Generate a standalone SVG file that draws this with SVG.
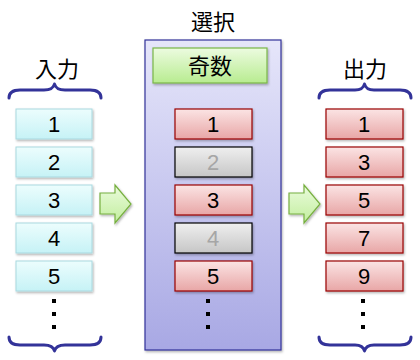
<svg xmlns="http://www.w3.org/2000/svg" width="420" height="360" viewBox="0 0 420 360">
<defs>
<linearGradient id="gCyan" x1="0" y1="0" x2="0" y2="1"><stop offset="0" stop-color="#ecfdfd"/><stop offset="1" stop-color="#c6f2f6"/></linearGradient>
<linearGradient id="gRed" x1="0" y1="0" x2="0" y2="1"><stop offset="0" stop-color="#fbe4e4"/><stop offset="1" stop-color="#e8a6a6"/></linearGradient>
<linearGradient id="gGray" x1="0" y1="0" x2="0" y2="1"><stop offset="0" stop-color="#efefef"/><stop offset="1" stop-color="#c6c6c6"/></linearGradient>
<linearGradient id="gGreen" x1="0" y1="0" x2="0" y2="1"><stop offset="0" stop-color="#ecfbe0"/><stop offset="1" stop-color="#b8ec90"/></linearGradient>
<linearGradient id="gPanel" x1="0" y1="0" x2="0" y2="1"><stop offset="0" stop-color="#e6e6fa"/><stop offset="1" stop-color="#a8a8e4"/></linearGradient>
<linearGradient id="gArrow" x1="0" y1="0" x2="0" y2="1"><stop offset="0" stop-color="#eafbdc"/><stop offset="1" stop-color="#c2ee9e"/></linearGradient>
<filter id="sh" x="-10%" y="-10%" width="130%" height="140%"><feDropShadow dx="1" dy="1.5" stdDeviation="1" flood-color="#000" flood-opacity="0.3"/></filter>
</defs>
<style>
text{font-family:"Liberation Sans","Noto Sans CJK JP",sans-serif;font-size:22px;text-anchor:middle;fill:#000}
.lbl{font-size:22px}
.cyan{fill:url(#gCyan);stroke:#a9d9e0;stroke-width:1}
.red{fill:url(#gRed);stroke:#990000;stroke-width:1.2}
.gray{fill:url(#gGray);stroke:#000;stroke-width:1.2}
.gtxt{fill:#a6a6a6}
.brace{fill:none;stroke:#333399;stroke-width:3;stroke-linecap:round;stroke-linejoin:round}
.dot{fill:#000}
.arrow{fill:url(#gArrow);stroke:#77b040;stroke-width:1.2}
</style>

<g id="panel">
<rect x="145" y="40" width="136" height="310" fill="url(#gPanel)" stroke="#333399" stroke-width="1.2" filter="url(#sh)"/>
<text class="lbl" x="213" y="30">選択</text>
</g>
<g id="odd">
<rect x="153" y="48" width="114" height="35" fill="url(#gGreen)" stroke="#7ab648" stroke-width="1.2" filter="url(#sh)"/>
<text class="lbl" x="210" y="74">奇数</text>
</g>

<g id="input">
<text class="lbl" x="57" y="77">入力</text>
<path class="brace" d="M9,98 Q9,90 20,90 L44,90 Q53,90 54.5,84 Q56,90 65,90 L90,90 Q101,90 101,98"/>
<g filter="url(#sh)">
<rect class="cyan" x="16" y="109" width="76" height="30"/>
<rect class="cyan" x="16" y="147" width="76" height="30"/>
<rect class="cyan" x="16" y="185" width="76" height="30"/>
<rect class="cyan" x="16" y="223" width="76" height="30"/>
<rect class="cyan" x="16" y="261" width="76" height="30"/>
</g>
<text x="54" y="132">1</text>
<text x="54" y="170">2</text>
<text x="54" y="208">3</text>
<text x="54" y="246">4</text>
<text x="54" y="284">5</text>
<rect class="dot" x="52" y="299" width="4" height="4"/>
<rect class="dot" x="52" y="312" width="4" height="4"/>
<rect class="dot" x="52" y="325" width="4" height="4"/>
<path class="brace" d="M9,337 Q9,345 20,345 L44,345 Q53,345 54.5,351 Q56,345 65,345 L90,345 Q101,345 101,337"/>
</g>

<g id="select">
<g filter="url(#sh)">
<rect class="red" x="175" y="109" width="77" height="30"/>
<rect class="gray" x="175" y="147" width="77" height="30"/>
<rect class="red" x="175" y="185" width="77" height="30"/>
<rect class="gray" x="175" y="223" width="77" height="30"/>
<rect class="red" x="175" y="261" width="77" height="30"/>
</g>
<text x="213" y="132">1</text>
<text x="213" y="170" class="gtxt">2</text>
<text x="213" y="208">3</text>
<text x="213" y="246" class="gtxt">4</text>
<text x="213" y="284">5</text>
<rect class="dot" x="206" y="299" width="4" height="4"/>
<rect class="dot" x="206" y="312" width="4" height="4"/>
<rect class="dot" x="206" y="325" width="4" height="4"/>
</g>

<g id="output">
<text class="lbl" x="365" y="77">出力</text>
<path class="brace" d="M319,98 Q319,90 330,90 L355,90 Q363,90 364.5,84 Q366,90 374,90 L400,90 Q411,90 411,98"/>
<g filter="url(#sh)">
<rect class="red" x="326" y="109" width="77" height="30"/>
<rect class="red" x="326" y="147" width="77" height="30"/>
<rect class="red" x="326" y="185" width="77" height="30"/>
<rect class="red" x="326" y="223" width="77" height="30"/>
<rect class="red" x="326" y="261" width="77" height="30"/>
</g>
<text x="364" y="132">1</text>
<text x="364" y="170">3</text>
<text x="364" y="208">5</text>
<text x="364" y="246">7</text>
<text x="364" y="284">9</text>
<rect class="dot" x="361" y="299" width="4" height="4"/>
<rect class="dot" x="361" y="312" width="4" height="4"/>
<rect class="dot" x="361" y="325" width="4" height="4"/>
<path class="brace" d="M319,337 Q319,345 330,345 L355,345 Q363,345 364.5,351 Q366,345 374,345 L400,345 Q411,345 411,337"/>
</g>

<g id="connectors" filter="url(#sh)">
<path class="arrow" d="M100,193 L115,193 L115,185 L131,204 L115,223 L115,214 L100,214 Z"/>
<path class="arrow" d="M289,193 L304,193 L304,185 L320,204 L304,223 L304,214 L289,214 Z"/>
</g>
</svg>
